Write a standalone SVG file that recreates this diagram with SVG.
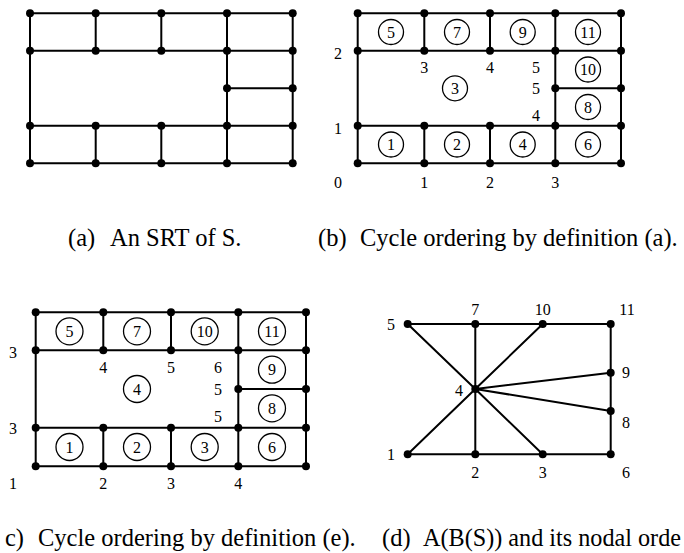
<svg xmlns="http://www.w3.org/2000/svg" width="684" height="553" viewBox="0 0 684 553">
<style>
.e{stroke:#000;stroke-width:2;fill:none;stroke-linecap:round}
.n{fill:#000}
.c{fill:#fff;stroke:#000;stroke-width:1.3}
.t{font-family:"Liberation Serif","Times New Roman",serif;font-size:16px;text-anchor:middle;fill:#000}
.cap{font-family:"Liberation Serif","Times New Roman",serif;font-size:24.5px;fill:#000}
</style>
<rect width="684" height="553" fill="#fff"/>
<g id="connectors">
<path id="edges-a" class="e" d="M30 13.3H292.7M30 50.7H292.7M227 88.3H292.7M30 125.7H292.7M30 163.3H292.7M30 13.3V163.3M95.7 13.3V50.7M95.7 125.7V163.3M161.3 13.3V50.7M161.3 125.7V163.3M227 13.3V163.3M292.7 13.3V163.3"/>
<path id="edges-b" class="e" d="M357.7 13.3H621M357.7 50.7H621M555.3 88.3H621M357.7 125.7H621M357.7 163.3H621M357.7 13.3V163.3M424.3 13.3V50.7M424.3 125.7V163.3M490 13.3V50.7M490 125.7V163.3M555.3 13.3V163.3M621 13.3V163.3"/>
<path id="edges-c" class="e" d="M35.7 312.3H306M35.7 350.3H306M238.3 389H306M35.7 427.7H306M35.7 466.3H306M35.7 312.3V466.3M103.3 312.3V350.3M103.3 427.7V466.3M171 312.3V350.3M171 427.7V466.3M238.3 312.3V466.3M306 312.3V466.3"/>
<path id="edges-d" class="e" d="M407.7 324H610.7V454.3H407.7M475.3 389L407.7 324M475.3 389L475.3 324M475.3 389L542.7 324M475.3 389L610.7 372.7M475.3 389L610.7 411M475.3 389L542.7 454.3M475.3 389L475.3 454.3M475.3 389L407.7 454.3"/>
</g>
<g id="panel-a">
<g id="a-nodes" class="n">
<circle cx="30" cy="13.3" r="4"/><circle cx="95.7" cy="13.3" r="4"/><circle cx="161.3" cy="13.3" r="4"/><circle cx="227" cy="13.3" r="4"/><circle cx="292.7" cy="13.3" r="4"/>
<circle cx="30" cy="50.7" r="4"/><circle cx="95.7" cy="50.7" r="4"/><circle cx="161.3" cy="50.7" r="4"/><circle cx="227" cy="50.7" r="4"/><circle cx="292.7" cy="50.7" r="4"/>
<circle cx="227" cy="88.3" r="4"/><circle cx="292.7" cy="88.3" r="4"/>
<circle cx="30" cy="125.7" r="4"/><circle cx="95.7" cy="125.7" r="4"/><circle cx="161.3" cy="125.7" r="4"/><circle cx="227" cy="125.7" r="4"/><circle cx="292.7" cy="125.7" r="4"/>
<circle cx="30" cy="163.3" r="4"/><circle cx="95.7" cy="163.3" r="4"/><circle cx="161.3" cy="163.3" r="4"/><circle cx="227" cy="163.3" r="4"/><circle cx="292.7" cy="163.3" r="4"/>
</g>
</g>
<g id="panel-b">
<g id="b-nodes" class="n">
<circle cx="357.7" cy="13.3" r="4"/><circle cx="424.3" cy="13.3" r="4"/><circle cx="490" cy="13.3" r="4"/><circle cx="555.3" cy="13.3" r="4"/><circle cx="621" cy="13.3" r="4"/>
<circle cx="357.7" cy="50.7" r="4"/><circle cx="424.3" cy="50.7" r="4"/><circle cx="490" cy="50.7" r="4"/><circle cx="555.3" cy="50.7" r="4"/><circle cx="621" cy="50.7" r="4"/>
<circle cx="555.3" cy="88.3" r="4"/><circle cx="621" cy="88.3" r="4"/>
<circle cx="357.7" cy="125.7" r="4"/><circle cx="424.3" cy="125.7" r="4"/><circle cx="490" cy="125.7" r="4"/><circle cx="555.3" cy="125.7" r="4"/><circle cx="621" cy="125.7" r="4"/>
<circle cx="357.7" cy="163.3" r="4"/><circle cx="424.3" cy="163.3" r="4"/><circle cx="490" cy="163.3" r="4"/><circle cx="555.3" cy="163.3" r="4"/><circle cx="621" cy="163.3" r="4"/>
</g>
<g id="b-cycles">
<g id="b-c5"><circle class="c" cx="391" cy="32" r="12.5"/><text class="t" x="391" y="37.5">5</text></g>
<g id="b-c7"><circle class="c" cx="457" cy="32" r="12.5"/><text class="t" x="457" y="37.5">7</text></g>
<g id="b-c9"><circle class="c" cx="522.7" cy="32" r="12.5"/><text class="t" x="522.7" y="37.5">9</text></g>
<g id="b-c11"><circle class="c" cx="588" cy="32" r="12.5"/><text class="t" x="588" y="37.5">11</text></g>
<g id="b-c10"><circle class="c" cx="588" cy="69.5" r="12.5"/><text class="t" x="588" y="75">10</text></g>
<g id="b-c8"><circle class="c" cx="588" cy="107" r="12.5"/><text class="t" x="588" y="112.5">8</text></g>
<g id="b-c3"><circle class="c" cx="455" cy="88.3" r="12.5"/><text class="t" x="455" y="93.8">3</text></g>
<g id="b-c1"><circle class="c" cx="391" cy="144.5" r="12.5"/><text class="t" x="391" y="150">1</text></g>
<g id="b-c2"><circle class="c" cx="457" cy="144.5" r="12.5"/><text class="t" x="457" y="150">2</text></g>
<g id="b-c4"><circle class="c" cx="522.7" cy="144.5" r="12.5"/><text class="t" x="522.7" y="150">4</text></g>
<g id="b-c6"><circle class="c" cx="588" cy="144.5" r="12.5"/><text class="t" x="588" y="150">6</text></g>
</g>
<g id="b-labels" class="t">
<text x="338" y="58.5">2</text><text x="338" y="133.5">1</text><text x="338" y="187.5">0</text>
<text x="424.3" y="72.5">3</text><text x="490" y="72.5">4</text><text x="536" y="72.5">5</text>
<text x="536" y="93.5">5</text><text x="536" y="120.5">4</text>
<text x="424.3" y="187.5">1</text><text x="490" y="187.5">2</text><text x="555.3" y="187.5">3</text>
</g>
</g>
<g id="panel-c">
<g id="c-nodes" class="n">
<circle cx="35.7" cy="312.3" r="4"/><circle cx="103.3" cy="312.3" r="4"/><circle cx="171" cy="312.3" r="4"/><circle cx="238.3" cy="312.3" r="4"/><circle cx="306" cy="312.3" r="4"/>
<circle cx="35.7" cy="350.3" r="4"/><circle cx="103.3" cy="350.3" r="4"/><circle cx="171" cy="350.3" r="4"/><circle cx="238.3" cy="350.3" r="4"/><circle cx="306" cy="350.3" r="4"/>
<circle cx="238.3" cy="389" r="4"/><circle cx="306" cy="389" r="4"/>
<circle cx="35.7" cy="427.7" r="4"/><circle cx="103.3" cy="427.7" r="4"/><circle cx="171" cy="427.7" r="4"/><circle cx="238.3" cy="427.7" r="4"/><circle cx="306" cy="427.7" r="4"/>
<circle cx="35.7" cy="466.3" r="4"/><circle cx="103.3" cy="466.3" r="4"/><circle cx="171" cy="466.3" r="4"/><circle cx="238.3" cy="466.3" r="4"/><circle cx="306" cy="466.3" r="4"/>
</g>
<g id="c-cycles">
<g id="c-c5"><circle class="c" cx="69.5" cy="331.3" r="13.5"/><text class="t" x="69.5" y="337">5</text></g>
<g id="c-c7"><circle class="c" cx="137" cy="331.3" r="13.5"/><text class="t" x="137" y="337">7</text></g>
<g id="c-c10"><circle class="c" cx="204.7" cy="331.3" r="13.5"/><text class="t" x="204.7" y="337">10</text></g>
<g id="c-c11"><circle class="c" cx="272" cy="331.3" r="13.5"/><text class="t" x="272" y="337">11</text></g>
<g id="c-c9"><circle class="c" cx="272" cy="369.7" r="13.5"/><text class="t" x="272" y="375.4">9</text></g>
<g id="c-c8"><circle class="c" cx="272" cy="408.3" r="13.5"/><text class="t" x="272" y="414">8</text></g>
<g id="c-c4"><circle class="c" cx="137" cy="389" r="13.5"/><text class="t" x="137" y="394.7">4</text></g>
<g id="c-c1"><circle class="c" cx="69.5" cy="447" r="13.5"/><text class="t" x="69.5" y="452.7">1</text></g>
<g id="c-c2"><circle class="c" cx="137" cy="447" r="13.5"/><text class="t" x="137" y="452.7">2</text></g>
<g id="c-c3"><circle class="c" cx="204.7" cy="447" r="13.5"/><text class="t" x="204.7" y="452.7">3</text></g>
<g id="c-c6"><circle class="c" cx="272" cy="447" r="13.5"/><text class="t" x="272" y="452.7">6</text></g>
</g>
<g id="c-labels" class="t">
<text x="13" y="357.5">3</text><text x="13" y="433.5">3</text><text x="13" y="488.5">1</text>
<text x="103.3" y="372.5">4</text><text x="171" y="372.5">5</text><text x="218" y="372.5">6</text>
<text x="218" y="394.5">5</text><text x="218" y="421.5">5</text>
<text x="103.3" y="488.5">2</text><text x="171" y="488.5">3</text><text x="238.3" y="488.5">4</text>
</g>
</g>
<g id="panel-d">
<g id="d-n1"><circle class="n" cx="407.7" cy="454.3" r="4"/><text class="t" x="391" y="459.5">1</text></g>
<g id="d-n2"><circle class="n" cx="475.3" cy="454.3" r="4"/><text class="t" x="475.3" y="477.5">2</text></g>
<g id="d-n3"><circle class="n" cx="542.7" cy="454.3" r="4"/><text class="t" x="542.7" y="477.5">3</text></g>
<g id="d-n4"><circle class="n" cx="475.3" cy="389" r="4"/><text class="t" x="459" y="396">4</text></g>
<g id="d-n5"><circle class="n" cx="407.7" cy="324" r="4"/><text class="t" x="391" y="329.5">5</text></g>
<g id="d-n6"><circle class="n" cx="610.7" cy="454.3" r="4"/><text class="t" x="626" y="477.5">6</text></g>
<g id="d-n7"><circle class="n" cx="475.3" cy="324" r="4"/><text class="t" x="475.3" y="314.5">7</text></g>
<g id="d-n8"><circle class="n" cx="610.7" cy="411" r="4"/><text class="t" x="626" y="427.5">8</text></g>
<g id="d-n9"><circle class="n" cx="610.7" cy="372.7" r="4"/><text class="t" x="626" y="378">9</text></g>
<g id="d-n10"><circle class="n" cx="542.7" cy="324" r="4"/><text class="t" x="542.7" y="314.5">10</text></g>
<g id="d-n11"><circle class="n" cx="610.7" cy="324" r="4"/><text class="t" x="627" y="314.5">11</text></g>
</g>
<g id="captions" class="cap">
<text y="246"><tspan x="68">(a)</tspan><tspan x="110">An SRT of S.</tspan></text>
<text y="246"><tspan x="318">(b)</tspan><tspan x="360">Cycle ordering by definition (a).</tspan></text>
<text y="546"><tspan x="5">c)</tspan><tspan x="38">Cycle ordering by definition (e).</tspan></text>
<text y="546"><tspan x="382">(d)</tspan><tspan x="423" textLength="258" lengthAdjust="spacingAndGlyphs">A(B(S)) and its nodal orde</tspan></text>
</g>
</svg>
